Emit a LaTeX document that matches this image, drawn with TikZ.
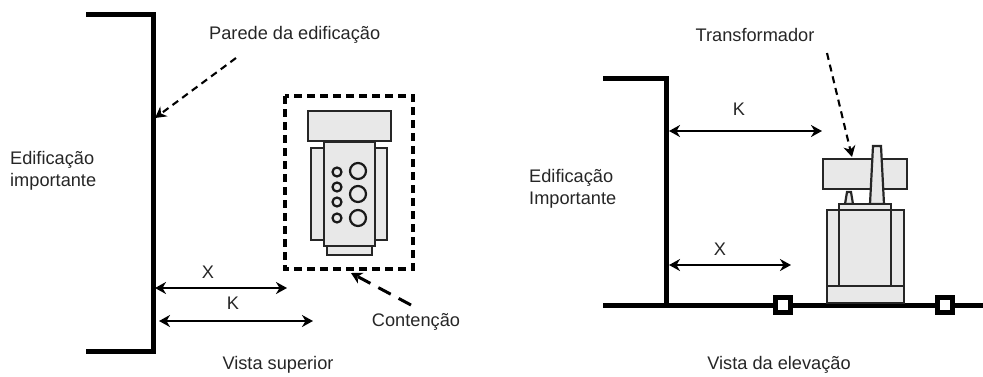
\documentclass[tikz,border=0pt]{standalone}
\usepackage{fontspec}
\setmainfont{Liberation Sans}
\usetikzlibrary{arrows.meta}
\begin{document}
\begin{tikzpicture}[x=1pt,y=-1pt,
            >={Stealth[inset=3.5pt,length=11pt,width=12pt]},
            wall/.style={line width=5pt},
            part/.style={draw=black!85, line width=2.2pt, fill=black!9},
            dim/.style={<->, line width=1.7pt},
            lbl/.style={inner sep=0pt, text=black!85, font=\fontsize{18.2}{21.7}\selectfont},
            hollow/.style={draw=black!90, line width=2.2pt},
            pointer/.style={->, line width=2.1pt, dash pattern=on 7pt off 5pt}]
        \useasboundingbox (0,0) rectangle (983,376);

        % vista superior
        \draw[wall] (86,14) -- (153,14) -- (153,351) -- (86,351);
        \draw[line width=3.6pt, dash pattern=on 8pt off 5pt] (285,96) rectangle (413,269);
        \draw[part] (311,148) rectangle (387,240);
        \draw[part] (327,246) rectangle (372,255);
        \draw[part] (324,142) rectangle (375,246);
        \draw[part] (308,111) rectangle (391,141);
        \foreach \y in {172,187,202,218}
            \draw[hollow] (337,\y) circle (4.5);
        \foreach \y in {171,194,218}
            \draw[hollow] (358,\y) circle (8);

        \node[lbl, anchor=west] (parede) at (209,35) {Parede da edificação};
        \node[lbl, anchor=west, align=left] (edifA) at (10,171) {Edificação\\importante};
        \node[lbl] (xA) at (208,272) {X};
        \node[lbl] (kA) at (233,303) {K};
        \node[lbl] (contencao) at (416,322) {Contenção};
        \node[lbl] (vistaA) at (278,365) {Vista superior};

        \coordinate (xA1) at (155,288);
        \coordinate (xA2) at (287,288);
        \coordinate (kA1) at (159,321);
        \coordinate (kA2) at (313,321);
        \draw[dim] (xA1) -- (xA2);
        \draw[dim] (kA1) -- (kA2);

        \coordinate (paredeA) at (236,58);
        \coordinate (paredeB) at (155,118);
        \coordinate (contA) at (411,305);
        \coordinate (contB) at (351,273);
        \draw[pointer] (paredeA) -- (paredeB);
        \draw[->, line width=3pt, dash pattern=on 14pt off 9pt] (contA) -- (contB);

        % vista da elevacao
        \draw[wall] (603,78) -- (666,78) -- (666,305);
        \draw[wall] (603,305) -- (983,305);
        \draw[part] (823,159) rectangle (907,189);
        \draw[part] (870,204) -- (873,146) -- (881,146) -- (884,204) -- cycle;
        \draw[part] (845,204) -- (847,192) -- (851,192) -- (853,204) -- cycle;
        \draw[part] (839,204) rectangle (891,210);
        \draw[part] (827,210) rectangle (904,303);
        \draw[part, fill=none] (839,210) -- (839,286) (891,210) -- (891,286) (827,286) -- (904,286);
        \draw[draw=black, fill=white, line width=5pt] (775.5,297.5) rectangle (790.5,312.5);
        \draw[draw=black, fill=white, line width=5pt] (937.5,297.5) rectangle (952.5,312.5);

        \node[lbl] (trafo) at (755,35) {Transformador};
        \node[lbl, anchor=west, align=left] (edifB) at (529,188.5) {Edificação\\Importante};
        \node[lbl] (kB) at (739,109) {K};
        \node[lbl] (xB) at (720,249) {X};
        \node[lbl] (vistaB) at (779,365) {Vista da elevação};

        \coordinate (kB1) at (669,131);
        \coordinate (kB2) at (822,131);
        \coordinate (xB1) at (669,265);
        \coordinate (xB2) at (791,265);
        \draw[dim] (kB1) -- (kB2);
        \draw[dim] (xB1) -- (xB2);

        \coordinate (trafoA) at (827,53);
        \coordinate (trafoB) at (852,157);
        \draw[pointer] (trafoA) -- (trafoB);
    \end{tikzpicture}
\end{document}
